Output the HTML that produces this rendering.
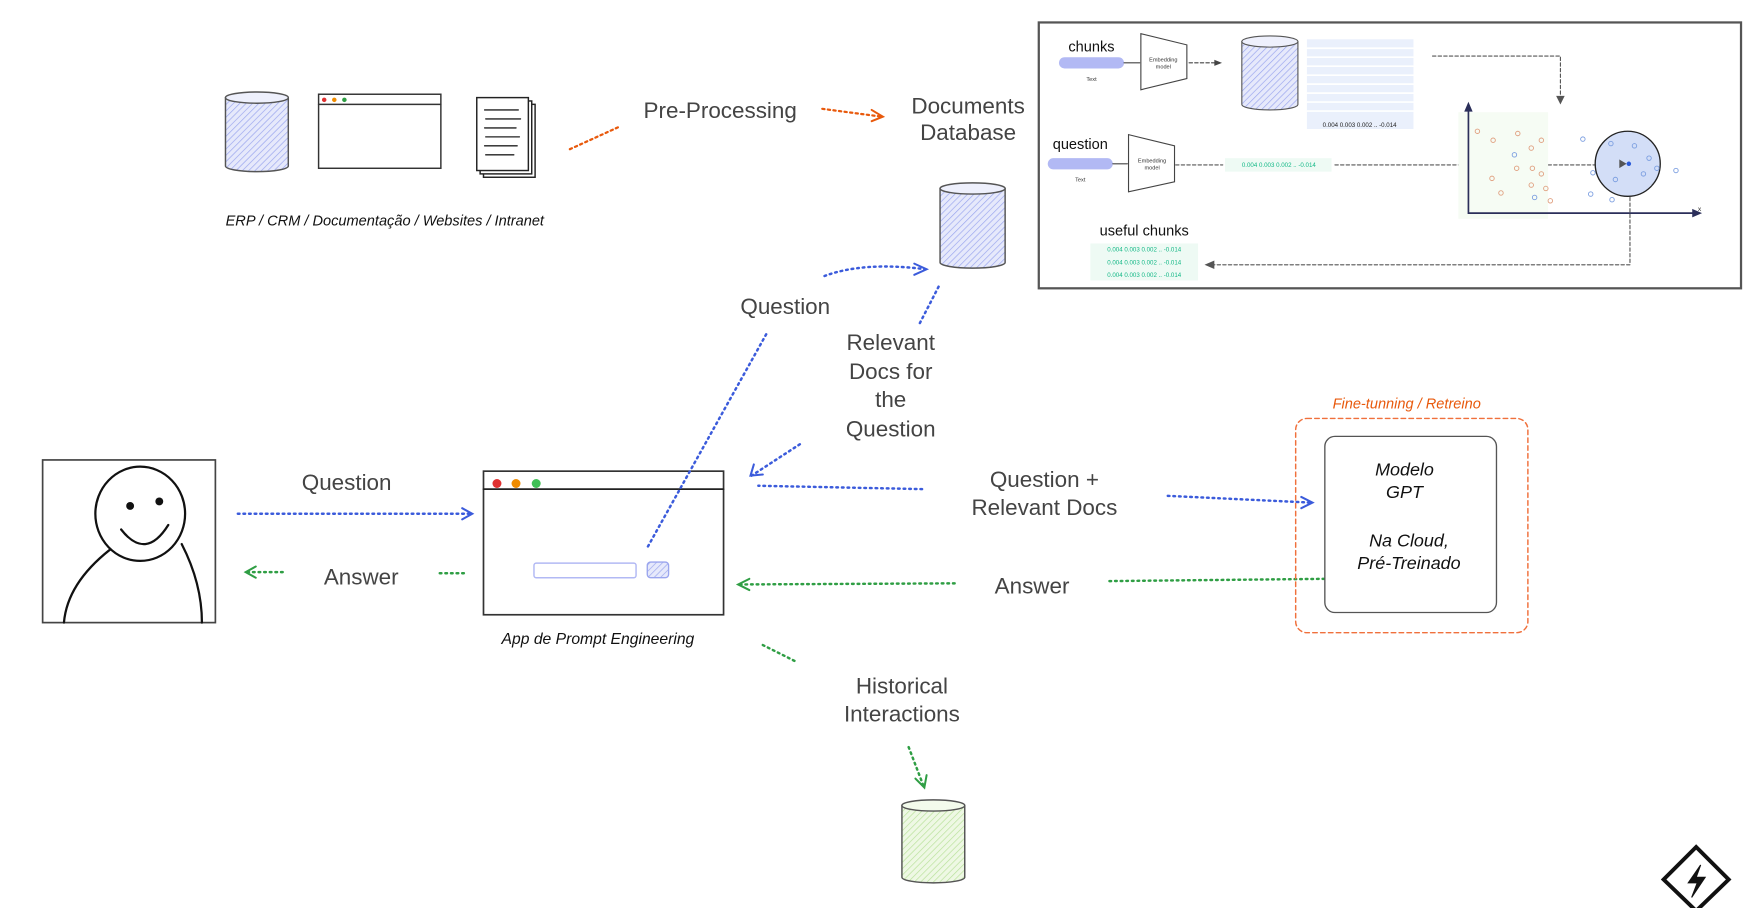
<!DOCTYPE html>
<html><head><meta charset="utf-8"><style>
html,body{margin:0;padding:0;background:#fff;width:1750px;height:908px;overflow:hidden}
svg{display:block}
.l{font-family:"Liberation Sans",sans-serif;fill:#444;font-size:20px;text-anchor:middle}
.h{font-family:"Liberation Sans",sans-serif;fill:#111;text-anchor:middle;font-style:italic}
.s{font-family:"Liberation Sans",sans-serif;text-anchor:middle}
</style></head><body>
<svg width="1750" height="908" viewBox="0 0 1560 809.4" xmlns="http://www.w3.org/2000/svg">
<defs>
<pattern id="hb" width="4" height="4" patternUnits="userSpaceOnUse" patternTransform="rotate(45)"><rect width="4" height="4" fill="#e6e9fb"/><line x1="0" y1="0" x2="0" y2="4" stroke="#9aa5ee" stroke-width="1.2"/></pattern>
<pattern id="hg" width="4" height="4" patternUnits="userSpaceOnUse" patternTransform="rotate(45)"><rect width="4" height="4" fill="#eef8e4"/><line x1="0" y1="0" x2="0" y2="4" stroke="#b8e19a" stroke-width="1.2"/></pattern>
</defs>
<g stroke-linecap="round" fill="none">
<path d="M201 87 V148 A28 5 0 0 0 257 148 V87" fill="url(#hb)" stroke="#555" stroke-width="1.3"/>
<ellipse cx="229" cy="87" rx="28" ry="5" fill="#eef0fc" stroke="#555" stroke-width="1.3"/>
<rect x="284" y="84" width="109" height="66" fill="#fff" stroke="#333" stroke-width="1.3"/>
<line x1="284" y1="93" x2="393" y2="93" stroke="#333" stroke-width="1.3"/>
<circle cx="289" cy="89" r="2" fill="#e03131" stroke="none"/><circle cx="298" cy="89" r="2" fill="#f08c00" stroke="none"/><circle cx="307" cy="89" r="2" fill="#2f9e44" stroke="none"/>
<rect x="431" y="93" width="46" height="65" fill="#fff" stroke="#222" stroke-width="1.3"/>
<rect x="428" y="90" width="46" height="65" fill="#fff" stroke="#222" stroke-width="1.3"/>
<rect x="425" y="87" width="46" height="65" fill="#fff" stroke="#222" stroke-width="1.3"/>
<path d="M432 98 H462 M433 106 H464 M432 114 H460 M433 122 H463 M432 130 H461 M433 138 H458" stroke="#222" stroke-width="1.2"/>
<path d="M508 133 L552 113" stroke="#e8590c" stroke-width="2" stroke-dasharray="2 3"/>
<path d="M733 97 L786 104" stroke="#e8590c" stroke-width="2" stroke-dasharray="2 3"/>
<path d="M777 98 L787 104 L777 108" stroke="#e8590c" stroke-width="1.8"/>
<path d="M838 168 V234 A29 5 0 0 0 896 234 V168" fill="url(#hb)" stroke="#555" stroke-width="1.3"/>
<ellipse cx="867" cy="168" rx="29" ry="5" fill="#eef0fc" stroke="#555" stroke-width="1.3"/>
<rect x="926" y="20" width="626" height="237" fill="#fff" stroke="#555" stroke-width="2"/>
<rect x="944" y="51" width="58" height="10" rx="5" fill="#b2b9f4" stroke="none"/>
<path d="M1002 56 H1016" stroke="#444"/>
<path d="M1017 30 L1058 40 V70 L1017 80 Z" fill="#fff" stroke="#444"/>
<path d="M1060 56 H1086" stroke="#444" stroke-dasharray="3 2"/>
<path d="M1083 54 L1088 56 L1083 58 Z" fill="#444" stroke="#444"/>
<path d="M1107 37 V93 A25 5 0 0 0 1157 93 V37" fill="url(#hb)" stroke="#555"/>
<ellipse cx="1132" cy="37" rx="25" ry="5" fill="#eef0fc" stroke="#555"/>
<rect x="1165" y="35" width="95" height="80" fill="#eaf0fc" stroke="none"/>
<path d="M1165 43 H1260 M1165 51 H1260 M1165 59 H1260 M1165 67 H1260 M1165 75 H1260 M1165 83 H1260 M1165 91 H1260 M1165 99 H1260" stroke="#fff" stroke-width="1.5"/>
<path d="M1277 50 H1391 V90" stroke="#555" stroke-dasharray="3 2"/>
<path d="M1388 86 L1391 92 L1394 86 Z" fill="#555" stroke="#555"/>
<rect x="934" y="141" width="58" height="10" rx="5" fill="#b2b9f4" stroke="none"/>
<path d="M992 146 H1005" stroke="#444"/>
<path d="M1006 120 L1047 130 V162 L1006 171 Z" fill="#fff" stroke="#444"/>
<path d="M1048 147 H1090" stroke="#555" stroke-dasharray="3 2"/>
<rect x="1092" y="141" width="95" height="12" fill="#eefaf4" stroke="none"/>
<path d="M1190 147 H1446" stroke="#555" stroke-dasharray="3 2"/>
<rect x="1300" y="100" width="80" height="95" fill="#f6fcf4" stroke="none"/>
<path d="M1309 94 V190 H1514" stroke="#2b2f5a" stroke-width="1.5"/>
<path d="M1306 99 L1309 92 L1312 99 Z M1509 187 L1516 190 L1509 193 Z" fill="#2b2f5a" stroke="#2b2f5a"/>
<circle cx="1451" cy="146" r="29" fill="#d3def7" stroke="#222" stroke-width="1.2"/>
<g stroke-width="0.8" fill="none">
<circle cx="1317" cy="117" r="2" stroke="#e0a080"/><circle cx="1331" cy="125" r="2" stroke="#e0a080"/><circle cx="1353" cy="119" r="2" stroke="#e0a080"/><circle cx="1365" cy="132" r="2" stroke="#e0a080"/><circle cx="1352" cy="150" r="2" stroke="#e0a080"/><circle cx="1330" cy="159" r="2" stroke="#e0a080"/><circle cx="1366" cy="150" r="2" stroke="#e0a080"/><circle cx="1374" cy="155" r="2" stroke="#e0a080"/><circle cx="1338" cy="172" r="2" stroke="#e0a080"/><circle cx="1365" cy="165" r="2" stroke="#e0a080"/><circle cx="1378" cy="168" r="2" stroke="#e0a080"/><circle cx="1382" cy="179" r="2" stroke="#e0a080"/><circle cx="1374" cy="125" r="2" stroke="#e0a080"/>
<circle cx="1350" cy="138" r="2" stroke="#7b9ee0"/><circle cx="1368" cy="176" r="2" stroke="#7b9ee0"/><circle cx="1411" cy="124" r="2" stroke="#7b9ee0"/><circle cx="1420" cy="154" r="2" stroke="#7b9ee0"/><circle cx="1418" cy="173" r="2" stroke="#7b9ee0"/><circle cx="1437" cy="178" r="2" stroke="#7b9ee0"/><circle cx="1436" cy="128" r="2" stroke="#7b9ee0"/><circle cx="1457" cy="130" r="2" stroke="#7b9ee0"/><circle cx="1470" cy="141" r="2" stroke="#7b9ee0"/><circle cx="1494" cy="152" r="2" stroke="#7b9ee0"/><circle cx="1465" cy="155" r="2" stroke="#7b9ee0"/><circle cx="1477" cy="150" r="2" stroke="#7b9ee0"/><circle cx="1440" cy="160" r="2" stroke="#7b9ee0"/>
</g>
<circle cx="1452" cy="146" r="2" fill="#2a5ad8" stroke="none"/>
<path d="M1444 143 L1449 146 L1444 149 Z" fill="#555" stroke="#555"/>
<path d="M1453 176 V236 H1080" stroke="#555" stroke-dasharray="3 2"/>
<path d="M1082 233 L1075 236 L1082 239 Z" fill="#555" stroke="#555"/>
<rect x="972" y="217" width="96" height="33" fill="#eefaf4" stroke="none"/>
<g stroke="#3b5bdb" stroke-width="2.2" stroke-dasharray="1.5 3.5">
<path d="M735 246 Q770 233 825 240"/>
<path d="M820 288 L838 253"/>
<path d="M713 396 L670 424"/>
<path d="M822 436 L676 433"/>
<path d="M212 458 L420 458"/>
<path d="M1041 442 L1168 448"/>
</g>
<g stroke="#3b5bdb" stroke-width="1.8">
<path d="M815 235 L826 240 L815 245"/>
<path d="M672 414 L669 424 L680 423"/>
<path d="M412 453 L421 458 L412 463"/>
<path d="M1160 443 L1170 448 L1160 453"/>
</g>
<g stroke="#2f9e44" stroke-width="2.2" stroke-dasharray="1.5 3.5">
<path d="M252 510 L220 510"/>
<path d="M392 511 L416 511"/>
<path d="M851 520 L660 521"/>
<path d="M989 518 L1180 516"/>
<path d="M680 575 L710 590"/>
<path d="M810 666 L823 700"/>
</g>
<g stroke="#2f9e44" stroke-width="1.8">
<path d="M228 505 L219 510 L228 515"/>
<path d="M668 516 L658 521 L668 526"/>
<path d="M816 694 L824 702 L826 691"/>
</g>
<rect x="38" y="410" width="154" height="145" fill="#fff" stroke="#444" stroke-width="1.5"/>
<ellipse cx="125" cy="458" rx="40" ry="42" fill="none" stroke="#111" stroke-width="2"/>
<circle cx="116" cy="451" r="3.5" fill="#111" stroke="none"/><circle cx="142" cy="447" r="3.5" fill="#111" stroke="none"/>
<path d="M108 472 Q130 500 150 468" stroke="#111" stroke-width="2"/>
<path d="M98 490 Q60 520 57 555 M162 485 Q180 520 180 555" stroke="#111" stroke-width="2"/>
<rect x="431" y="420" width="214" height="128" fill="#fff" stroke="#333" stroke-width="1.5"/>
<line x1="431" y1="436" x2="645" y2="436" stroke="#222" stroke-width="1.6"/>
<circle cx="443" cy="431" r="4" fill="#e03131" stroke="none"/><circle cx="460" cy="431" r="4" fill="#f08c00" stroke="none"/><circle cx="478" cy="431" r="4" fill="#40c057" stroke="none"/>
<rect x="476" y="502" width="91" height="13" rx="2" fill="#fff" stroke="#b2b9f4" stroke-width="1.3"/>
<rect x="577" y="501" width="19" height="14" rx="3" fill="url(#hb)" stroke="#9aa5ee" stroke-width="1.2"/>
<path d="M683 298 L576 490" stroke="#3b5bdb" stroke-width="2.2" stroke-dasharray="1.5 3.5"/>
<rect x="1155" y="373" width="207" height="191" rx="10" fill="none" stroke="#f0703c" stroke-width="1.3" stroke-dasharray="4 3"/>
<rect x="1181" y="389" width="153" height="157" rx="9" fill="#fff" stroke="#555" stroke-width="1.2"/>
<path d="M804 718 V782 A28 5 0 0 0 860 782 V718" fill="url(#hg)" stroke="#555" stroke-width="1.3"/>
<ellipse cx="832" cy="718" rx="28" ry="5" fill="#f3fbec" stroke="#555" stroke-width="1.3"/>
<path d="M1512 755 L1541 784 L1512 812 L1483 784 Z" stroke="#111" stroke-width="3.5" fill="#fff"/>
<path d="M1516 771 L1505 787 L1513 787 L1508 800 L1520 782 L1512 782 Z" fill="#111" stroke="#111" stroke-width="1"/>
</g>
<text class="h" x="343" y="201" font-size="13">ERP / CRM / Documentação / Websites / Intranet</text>
<text class="l" x="642" y="105">Pre-Processing</text>
<text class="l" x="863" y="101">Documents</text>
<text class="l" x="863" y="125">Database</text>
<text class="s" x="973" y="46" font-size="13" fill="#111">chunks</text>
<text class="s" x="973" y="72" font-size="5" fill="#333">Text</text>
<text class="s" x="1037" y="55" font-size="5" fill="#333">Embedding</text>
<text class="s" x="1037" y="61" font-size="5" fill="#333">model</text>
<text class="s" x="1212" y="113" font-size="5.5" fill="#222">0.004  0.003  0.002  ..  -0.014</text>
<text class="s" x="963" y="133" font-size="13" fill="#111">question</text>
<text class="s" x="963" y="162" font-size="5" fill="#333">Text</text>
<text class="s" x="1027" y="145" font-size="5" fill="#333">Embedding</text>
<text class="s" x="1027" y="151" font-size="5" fill="#333">model</text>
<text class="s" x="1140" y="149" font-size="5.5" fill="#12b886">0.004  0.003  0.002  ..  -0.014</text>
<text class="s" x="1020" y="210" font-size="13" fill="#111">useful chunks</text>
<text class="s" x="1020" y="224" font-size="5.5" fill="#12b886">0.004  0.003  0.002  ..  -0.014</text>
<text class="s" x="1020" y="236" font-size="5.5" fill="#12b886">0.004  0.003  0.002  ..  -0.014</text>
<text class="s" x="1020" y="247" font-size="5.5" fill="#12b886">0.004  0.003  0.002  ..  -0.014</text>
<text class="s" x="1515" y="188" font-size="6" fill="#333">x</text>
<text class="l" x="700" y="280">Question</text>
<text class="l" x="794" y="312">Relevant</text>
<text class="l" x="794" y="338">Docs for</text>
<text class="l" x="794" y="363">the</text>
<text class="l" x="794" y="389">Question</text>
<text class="l" x="931" y="434">Question +</text>
<text class="l" x="931" y="459">Relevant Docs</text>
<text class="l" x="309" y="437">Question</text>
<text class="l" x="322" y="521">Answer</text>
<text class="l" x="920" y="529">Answer</text>
<text class="h" x="533" y="574" font-size="14">App de Prompt Engineering</text>
<text class="h" x="1254" y="364" font-size="13" style="fill:#e8590c">Fine-tunning / Retreino</text>
<text class="h" x="1252" y="424" font-size="16">Modelo</text>
<text class="h" x="1252" y="444" font-size="16">GPT</text>
<text class="h" x="1256" y="487" font-size="16">Na Cloud,</text>
<text class="h" x="1256" y="507" font-size="16">Pré-Treinado</text>
<text class="l" x="804" y="618">Historical</text>
<text class="l" x="804" y="643">Interactions</text>
</svg>
</body></html>
